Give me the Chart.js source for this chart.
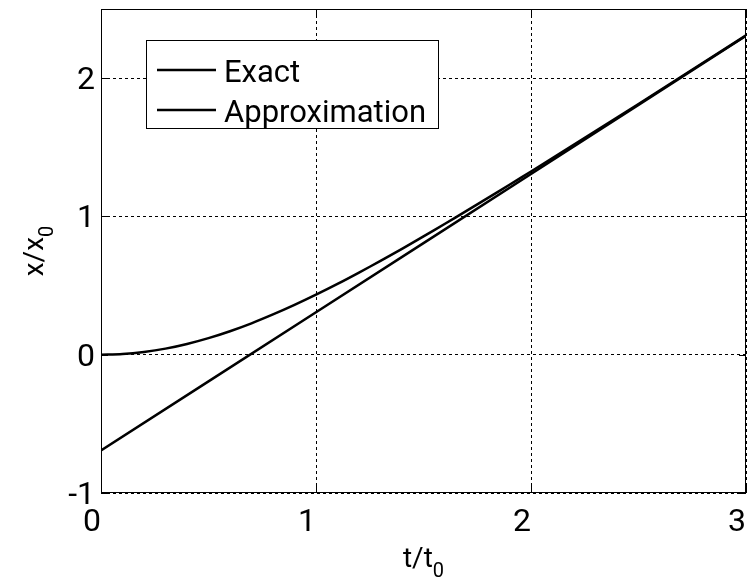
<!DOCTYPE html>
<html>
<head>
<meta charset="utf-8">
<script src="https://cdn.jsdelivr.net/npm/chart.js@4"></script>
<style>
  html, body { margin: 0; padding: 0; background: #fff; }
  #wrap { width: 754px; height: 580px; position: relative; }
</style>
</head>
<body>
<div id="wrap"><canvas id="plot" width="754" height="580"></canvas></div>
<script>
// t/t0 sample points and curve values
const tExact = [0, 0.1, 0.2, 0.3, 0.4, 0.5, 0.6, 0.7, 0.8, 0.9, 1.0, 1.1, 1.2, 1.3, 1.4, 1.5,
    1.6, 1.7, 1.8, 1.9, 2.0, 2.2, 2.4, 2.6, 2.8, 3.0];
const exactValues = [0, 0.005, 0.02, 0.044, 0.078, 0.12, 0.17, 0.227, 0.291, 0.36, 0.434, 0.512,
    0.594, 0.679, 0.766, 0.856, 0.947, 1.04, 1.134, 1.229, 1.325, 1.519, 1.715, 1.912, 2.111, 2.309];
const tApprox = [0, 0.5, 1.0, 1.5, 2.0, 2.5, 3.0];
const approxValues = [-0.693, -0.193, 0.307, 0.807, 1.307, 1.807, 2.307];
const xTicks = [0, 1, 2, 3];
const yTicks = [-1, 0, 1, 2];
const seriesNames = ["Exact", "Approximation"];

const FONT = "Roboto, 'Liberation Sans', sans-serif";

const toPoints = (xs, ys) => xs.map((x, i) => ({ x: x, y: ys[i] }));

// frame around the axes, inward ticks, axis titles and the legend box
const matlabLook = {
    id: "matlabLook",
    afterDraw(chart) {
        const ctx = chart.ctx;
        const a = chart.chartArea;
        const xs = chart.scales.x;
        const ys = chart.scales.y;
        ctx.save();
        ctx.strokeStyle = "#000";
        ctx.lineWidth = 1;
        ctx.strokeRect(a.left + 0.5, a.top + 0.5, a.right - a.left - 1, a.bottom - a.top - 1);

        // inward ticks on all four sides
        ctx.beginPath();
        xTicks.forEach(v => {
            const px = Math.round(xs.getPixelForValue(v)) + 0.5;
            ctx.moveTo(px, a.bottom); ctx.lineTo(px, a.bottom - 7);
            ctx.moveTo(px, a.top); ctx.lineTo(px, a.top + 7);
        });
        yTicks.forEach(v => {
            const py = Math.round(ys.getPixelForValue(v)) + 0.5;
            ctx.moveTo(a.left, py); ctx.lineTo(a.left + 7, py);
            ctx.moveTo(a.right, py); ctx.lineTo(a.right - 7, py);
        });
        ctx.stroke();

        // axis titles with subscripts
        ctx.fillStyle = "#000";
        ctx.textBaseline = "alphabetic";
        ctx.font = "28px " + FONT;
        const xMain = "t/t";
        const wMain = ctx.measureText(xMain).width;
        ctx.font = "20px " + FONT;
        const wSub = ctx.measureText("0").width;
        let x0 = (a.left + a.right) / 2 - (wMain + wSub) / 2;
        ctx.font = "28px " + FONT;
        ctx.textAlign = "left";
        ctx.fillText(xMain, x0, 567);
        ctx.font = "20px " + FONT;
        ctx.fillText("0", x0 + wMain, 577);

        ctx.save();
        ctx.translate(43, (a.top + a.bottom) / 2);
        ctx.rotate(-Math.PI / 2);
        ctx.font = "28px " + FONT;
        const yMain = "x/x";
        const wy = ctx.measureText(yMain).width;
        ctx.font = "20px " + FONT;
        const wys = ctx.measureText("0").width;
        const y0 = -(wy + wys) / 2;
        ctx.font = "28px " + FONT;
        ctx.fillText(yMain, y0, 0);
        ctx.font = "20px " + FONT;
        ctx.fillText("0", y0 + wy, 10);
        ctx.restore();

        // legend
        const box = { x: 146, y: 40, w: 292, h: 88 };
        ctx.fillStyle = "#fff";
        ctx.fillRect(box.x, box.y, box.w, box.h);
        ctx.strokeStyle = "#000";
        ctx.lineWidth = 1;
        ctx.strokeRect(box.x + 0.5, box.y + 0.5, box.w, box.h);
        ctx.font = "31px " + FONT;
        ctx.fillStyle = "#000";
        chart.data.datasets.forEach((ds, i) => {
            const ly = 70 + i * 40;
            ctx.beginPath();
            ctx.lineWidth = 2.5;
            ctx.moveTo(157, ly);
            ctx.lineTo(216, ly);
            ctx.stroke();
            ctx.fillText(ds.label, 224, ly + 12);
        });
        ctx.restore();
    }
};

new Chart(document.getElementById("plot"), {
    type: "line",
    data: {
        datasets: [
            {
                label: seriesNames[0],
                data: toPoints(tExact, exactValues),
                borderColor: "#000",
                borderWidth: 2.5,
                pointRadius: 0,
                tension: 0.3,
                fill: false,
            },
            {
                label: seriesNames[1],
                data: toPoints(tApprox, approxValues),
                borderColor: "#000",
                borderWidth: 2.5,
                pointRadius: 0,
                fill: false,
            },
        ],
    },
    options: {
        responsive: false,
        animation: false,
        layout: { padding: { left: 0, top: 9, right: 8, bottom: 0 } },
        plugins: {
            legend: { display: false },
            tooltip: { enabled: false },
        },
        scales: {
            x: {
                type: "linear",
                min: 0,
                max: 3,
                afterBuildTicks: s => { s.ticks = xTicks.map(v => ({ value: v })); },
                afterFit: s => { s.height = 87; s.paddingLeft = 0; s.paddingRight = 0; },
                border: { display: false, dash: [3, 3] },
                grid: { color: "#000", lineWidth: 1, drawTicks: false },
                ticks: { color: "#000", padding: 11, labelOffset: -9, font: { family: FONT, size: 32 }, maxRotation: 0 },
            },
            y: {
                type: "linear",
                min: -1,
                max: 2.5,
                afterBuildTicks: s => { s.ticks = yTicks.map(v => ({ value: v })); },
                afterFit: s => { s.width = 101; s.paddingTop = 0; s.paddingBottom = 0; },
                border: { display: false, dash: [3, 3] },
                grid: { color: "#000", lineWidth: 1, drawTicks: false },
                ticks: { color: "#000", padding: 6, labelOffset: 3, font: { family: FONT, size: 32 } },
            },
        },
    },
    plugins: [matlabLook],
});
</script>
</body>
</html>
